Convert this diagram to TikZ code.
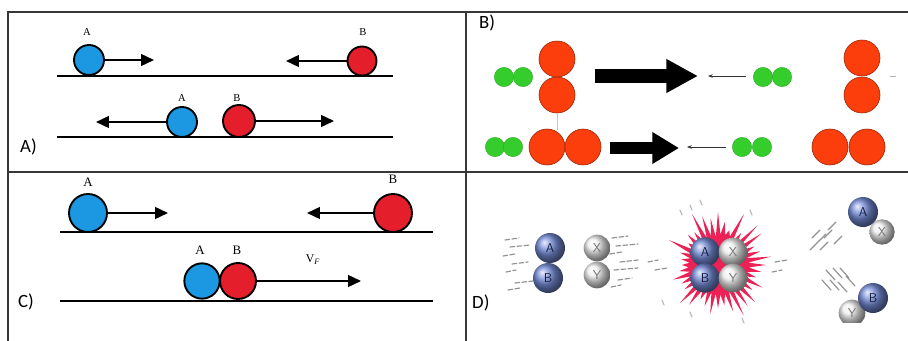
\documentclass[tikz,border=0pt]{standalone}
\usepackage{fontspec}
\setmainfont{Liberation Serif}
\newfontfamily\panelfont{Carlito}
\usetikzlibrary{arrows.meta,positioning,calc}

\definecolor{ballblue}{RGB}{28,152,226}
\definecolor{ballred}{RGB}{228,30,42}
\definecolor{atomred}{RGB}{252,62,12}
\definecolor{atomgreen}{RGB}{52,205,44}
\definecolor{burstred}{RGB}{236,34,86}
\definecolor{atomblue}{RGB}{70,100,200}
\definecolor{framegray}{RGB}{55,55,55}

\begin{document}
\begin{tikzpicture}[x=0.03cm,y=-0.03cm,
			ball/.style={circle,draw=black,line width=1.6pt,inner sep=0pt,minimum size=#1},
			tag/.style={font=\panelfont\fontsize{16}{16}\selectfont,inner sep=0pt},
			lettr/.style={font=\fontsize{9}{9}\selectfont,inner sep=0pt},
			push/.style={line width=1.7pt,-{Triangle[length=11pt,width=10pt]}},
			ground/.style={line width=2.2pt,black},
			gatom/.style={circle,fill=atomgreen,draw=atomgreen!80!black,line width=0.3pt,inner sep=0pt,minimum size=0.58cm},
			ratom/.style={circle,fill=atomred,draw=atomred!60!black,line width=0.5pt,inner sep=0pt,minimum size=1.08cm},
			fat/.style={line width=0.42cm,-{Triangle[length=0.95cm,width=0.95cm]}},
			hint/.style={line width=0.6pt,black!80,-{Stealth[length=4pt,width=3pt]}},
			atom/.style={circle,inner sep=0pt,minimum size=#1,font=\sffamily\fontsize{11}{11}\selectfont},
			blueatom/.style={atom=#1,ball color=atomblue!75!white,text=atomblue!30!black},
			grayatom/.style={atom=#1,ball color=gray!14,text=black!55},
			streak/.style={gray!85,line width=1pt,line cap=round,dash pattern=on 4pt off 2pt}]
		\useasboundingbox (0,0) rectangle (908,341);
		\fill[white] (0,0) rectangle (908,341);
		\draw[framegray,line width=1pt] (908,12) -- (8,12) -- (8,341)
			(466,12) -- (466,341) (8,172) -- (908,172);

		% A) elastic
		\draw[ground] (57,76) -- (393,76) (57,137) -- (393,137);
		\path 	(89,60) 	node 	(a1) [ball=0.9cm,fill=ballblue] {}
		        (362,61) 	node 	(b1) [ball=0.87cm,fill=ballred] {}
		        (182,122) 	node 	(a2) [ball=0.9cm,fill=ballblue] {}
		        (239,121) 	node 	(b2) [ball=0.96cm,fill=ballred] {};
		\node[lettr] (la1) at (87,32) {A};
		\node[lettr] (lb1) at (363,32) {B};
		\node[lettr] (la2) at (182,98) {A};
		\node[lettr] (lb2) at (237,98) {B};
		\coordinate (a1tip) at (154,60);
		\coordinate (b1tip) at (286,61);
		\coordinate (a2tip) at (96,122);
		\coordinate (b2tip) at (334,121);
		\draw[push] (a1) -- (a1tip);
		\draw[push] (b1) -- (b1tip);
		\draw[push] (a2) -- (a2tip);
		\draw[push] (b2) -- (b2tip);
		\node[tag,anchor=west] (tA) at (20,147) {A)};

		% B) molecules
		\path 	(504,77) 	node 	(g1) [gatom] {}
		        (523,77) 	node 	(g2) [gatom] {}
		        (557,59) 	node 	(r1) [ratom] {}
		        (557,95) 	node 	(r2) [ratom] {}
		        (763,77) 	node 	(g3) [gatom] {}
		        (782,77) 	node 	(g4) [gatom] {}
		        (862,58) 	node 	(r3) [ratom] {}
		        (862,95) 	node 	(r4) [ratom] {}
		        (495,147) 	node 	(g5) [gatom] {}
		        (513,147) 	node 	(g6) [gatom] {}
		        (547,147) 	node 	(r5) [ratom] {}
		        (583,147) 	node 	(r6) [ratom] {}
		        (742,147) 	node 	(g7) [gatom] {}
		        (762,147) 	node 	(g8) [gatom] {}
		        (830,147) 	node 	(r7) [ratom] {}
		        (867,147) 	node 	(r8) [ratom] {};
		\coordinate (f1s) at (595,76);
		\coordinate (f1e) at (698,76);
		\coordinate (f2s) at (610,148);
		\coordinate (f2e) at (679,148);
		\coordinate (drop) at (557,130);
		\coordinate (t1s) at (746,76);
		\coordinate (t1e) at (708,76);
		\coordinate (t2s) at (726,147);
		\coordinate (t2e) at (687,147);
		\draw[fat] (f1s) -- (f1e);
		\draw[line width=0.36cm,-{Triangle[length=0.8cm,width=0.9cm]}] (f2s) -- (f2e);
		\draw[hint] (t1s) -- (t1e);
		\draw[hint] (t2s) -- (t2e);
		\draw[gray!45,line width=0.4pt] (r2.south) -- (drop);
		\draw[gray!60,line width=0.6pt] (890,76) -- (896,76);
		\node[tag,anchor=west] (tB) at (479,23) {B)};

		% C) inelastic
		\draw[ground] (60,232) -- (433,232) (60,301) -- (433,301);
		\path 	(88,213) 	node 	(a3) [ball=1.14cm,fill=ballblue] {}
		        (393,213) 	node 	(b3) [ball=1.14cm,fill=ballred] {}
		        (202,281) 	node 	(a4) [ball=1.06cm,fill=ballblue] {}
		        (238,281) 	node 	(b4) [ball=1.08cm,fill=ballred] {};
		\node[lettr,font=\fontsize{11}{11}\selectfont] (la3) at (88,182) {A};
		\node[lettr,font=\fontsize{11}{11}\selectfont] (lb3) at (393,179) {B};
		\node[lettr,font=\fontsize{11}{11}\selectfont] (la4) at (200,250) {A};
		\node[lettr,font=\fontsize{11}{11}\selectfont] (lb4) at (237,250) {B};
		\node[lettr,font=\fontsize{10}{10}\selectfont] (vf) at (313,260) {V\textsubscript{\itshape F}};
		\coordinate (a3tip) at (168,213);
		\coordinate (b3tip) at (307,213);
		\coordinate (b4tip) at (361,281);
		\draw[push] (a3) -- (a3tip);
		\draw[push] (b3) -- (b3tip);
		\draw[push] (b4) -- (b4tip);
		\node[tag,anchor=west] (tC) at (18,302) {C)};

		% D) reaction
		\coordinate (burst) at (718,265);
		\pgfmathsetseed{11}
		\fill[burstred] ([shift={(burst)}]0:48)
			\foreach \i [evaluate=\i as \rr using {mod(\i,2)==0 ? 36+22*rnd : 28+3*rnd}] in {1,...,79} {
				-- ([shift={(burst)}]\i*4.5:\rr) } -- cycle;
		\foreach \x/\y/\l in {505/240/14,510/247/20,503/256/12,512/264/16,506/272/10,515/283/18,508/290/12,
		                      612/238/16,616/246/22,610/254/12,620/262/18,614/270/24,618/280/14,611/287/10,
		                      648/262/10,655/270/12,775/262/12,772/272/10}
			\draw[streak] (\x,\y) -- ++(\l,-2);
		\foreach \x/\y in {812/238,818/242,820/250,824/238,834/244,810/250,828/230}
			\draw[streak,solid] (\x,\y) -- ++(8,-8);
		\foreach \x/\y in {826/270,833/268,840/268,822/280,830/280,838/282,846/276}
			\draw[streak,solid] (\x,\y) -- ++(9,10);
		\foreach \x/\y in {690/205,700/200,750/210,742/318,690/312,662/300,680/210}
			\draw[streak,solid,gray!55] (\x,\y) -- ++(2,5);
		\path 	(550,248) 	node 	(dA) [blueatom=0.9cm] {A}
		        (548,278) 	node 	(dB) [blueatom=0.9cm] {B}
		        (597,248) 	node 	(dX) [grayatom=0.8cm] {X}
		        (597,275) 	node 	(dY) [grayatom=0.8cm] {Y}
		        (705,252) 	node 	(cA) [blueatom=0.88cm] {A}
		        (733,252) 	node 	(cX) [grayatom=0.86cm] {X}
		        (705,278) 	node 	(cB) [blueatom=0.88cm] {B}
		        (733,278) 	node 	(cY) [grayatom=0.86cm] {Y}
		        (882,232) 	node 	(rX) [grayatom=0.76cm] {X}
		        (863,212) 	node 	(rA) [blueatom=0.9cm] {A};
		\begin{scope}
			\clip (800,180) rectangle (908,322);
			\path 	(852,313) 	node 	(rY) [grayatom=0.8cm] {Y}
			        (873,298) 	node 	(rB) [blueatom=0.9cm] {B};
		\end{scope}
		\node[tag,anchor=west] (tD) at (472,303) {D)};
	\end{tikzpicture}
\end{document}
